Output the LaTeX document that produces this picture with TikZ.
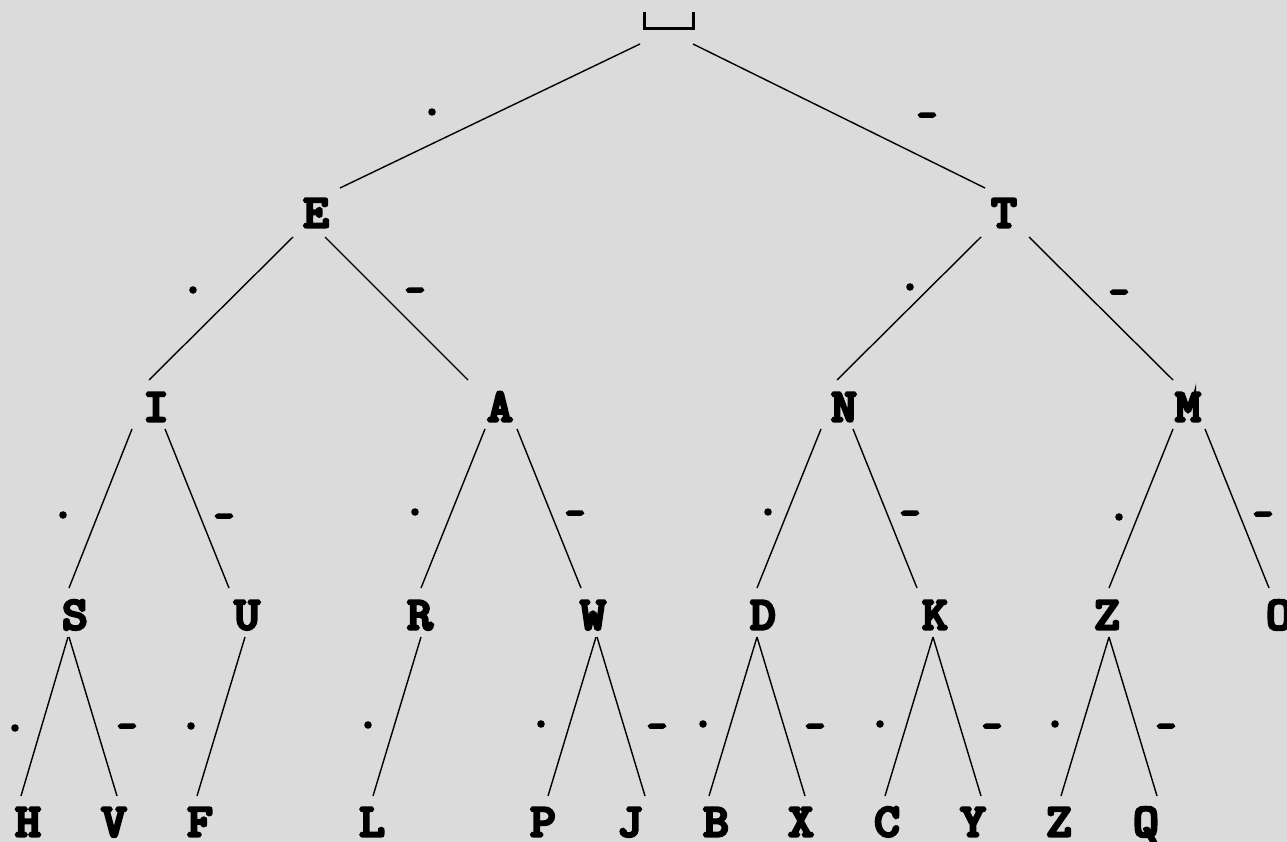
\documentclass[tikz,border=0pt]{standalone}
\usepackage{fontspec}
\newfontfamily\courb{Latin Modern Mono}[FakeBold=7]
\newfontfamily\courbb{Latin Modern Mono}[FakeBold=9]
\definecolor{bgray}{RGB}{219,219,219}
\tikzset{
  letter/.style={inner sep=0pt, anchor=base, font=\fontsize{46}{46}\selectfont\courb},
  sym/.style={inner sep=0pt, font=\fontsize{36}{36}\selectfont\courbb},
  edge/.style={line width=1.4pt}
}
\newcommand{\wletter}[1]{\raisebox{0pt}[\height][0pt]{\scalebox{1.06}[1]{#1}}}
\begin{document}
\begin{tikzpicture}[x=1pt,y=-1pt]
\fill[bgray] (0,0) rectangle (1287,842);
\useasboundingbox (0,0) rectangle (1287,842);
\clip (0,0) rectangle (1287,842);
% root
\node[inner sep=0pt, minimum width=48pt, minimum height=16pt] (root) at (669,20) {};
\draw[line width=3pt] (root.north west) -- (root.south west) -- (root.south east) -- (root.north east);
% letters (placed by baseline)
\node[letter] (E) at (316,227) {\wletter{E}};
\node[letter] (T) at (1004,227) {\wletter{T}};
\node[letter] (I) at (156,421) {\wletter{I}};
\node[letter] (A) at (500,421) {\wletter{A}};
\node[letter] (N) at (844,421) {\wletter{N}};
\node[letter] (M) at (1188,421) {\wletter{M}};
\node[letter] (S) at (75,629) {\wletter{S}};
\node[letter] (U) at (247,629) {\wletter{U}};
\node[letter] (R) at (420,629) {\wletter{R}};
\node[letter] (W) at (593,629) {\wletter{W}};
\node[letter] (D) at (763,629) {\wletter{D}};
\node[letter] (K) at (935,629) {\wletter{K}};
\node[letter] (Z) at (1107,629) {\wletter{Z}};
\node[letter] (O) at (1279,629) {\wletter{O}};
\node[letter] (H) at (28,836) {\wletter{H}};
\node[letter] (V) at (114,836) {\wletter{V}};
\node[letter] (F) at (200,836) {\wletter{F}};
\node[letter] (L) at (372,836) {\wletter{L}};
\node[letter] (P) at (543,836) {\wletter{P}};
\node[letter] (J) at (630,836) {\wletter{J}};
\node[letter] (B) at (716,836) {\wletter{B}};
\node[letter] (X) at (801,836) {\wletter{X}};
\node[letter] (C) at (887,836) {\wletter{C}};
\node[letter] (Y) at (973,836) {\wletter{Y}};
\node[letter] (Z2) at (1059,836) {\wletter{Z}};
\node[letter] (Q) at (1146,836) {\wletter{Q}};
% edges (offsets from each letter's baseline point)
\draw[edge] ([shift={(-29,24)}]root.center) -- ([shift={(24,-39)}]E.base);
\draw[edge] ([shift={(24,24)}]root.center) -- ([shift={(-19,-39)}]T.base);
\draw[edge] ([shift={(-23,10)}]E.base) -- ([shift={(-7,-41)}]I.base);
\draw[edge] ([shift={(9,10)}]E.base) -- ([shift={(-32,-41)}]A.base);
\draw[edge] ([shift={(-23,10)}]T.base) -- ([shift={(-7,-41)}]N.base);
\draw[edge] ([shift={(25,10)}]T.base) -- ([shift={(-15,-41)}]M.base);
\draw[edge] ([shift={(-24,8)}]I.base) -- ([shift={(-6,-41)}]S.base);
\draw[edge] ([shift={(9,8)}]I.base) -- ([shift={(-18,-41)}]U.base);
\draw[edge] ([shift={(-15,8)}]A.base) -- ([shift={(1,-41)}]R.base);
\draw[edge] ([shift={(17,8)}]A.base) -- ([shift={(-12,-41)}]W.base);
\draw[edge] ([shift={(-23,8)}]N.base) -- ([shift={(-6,-41)}]D.base);
\draw[edge] ([shift={(9,8)}]N.base) -- ([shift={(-18,-41)}]K.base);
\draw[edge] ([shift={(-15,8)}]M.base) -- ([shift={(2,-41)}]Z.base);
\draw[edge] ([shift={(17,8)}]M.base) -- ([shift={(-10,-41)}]O.base);
\draw[edge] ([shift={(-7,8)}]S.base) -- ([shift={(-7,-40)}]H.base);
\draw[edge] ([shift={(-6,8)}]S.base) -- ([shift={(3,-40)}]V.base);
\draw[edge] ([shift={(-2,8)}]U.base) -- ([shift={(-3,-40)}]F.base);
\draw[edge] ([shift={(1,8)}]R.base) -- ([shift={(1,-40)}]L.base);
\draw[edge] ([shift={(3,8)}]W.base) -- ([shift={(5,-40)}]P.base);
\draw[edge] ([shift={(4,8)}]W.base) -- ([shift={(15,-40)}]J.base);
\draw[edge] ([shift={(-6,8)}]D.base) -- ([shift={(-7,-40)}]B.base);
\draw[edge] ([shift={(-6,8)}]D.base) -- ([shift={(4,-40)}]X.base);
\draw[edge] ([shift={(-2,8)}]K.base) -- ([shift={(-2,-40)}]C.base);
\draw[edge] ([shift={(-2,8)}]K.base) -- ([shift={(8,-40)}]Y.base);
\draw[edge] ([shift={(2,8)}]Z.base) -- ([shift={(2,-40)}]Z2.base);
\draw[edge] ([shift={(2,8)}]Z.base) -- ([shift={(11,-40)}]Q.base);
% dot / dash labels
\node[sym] (l1) at (432,112) {.};
\node[sym] (l2) at (927,120) {-};
\node[sym] (l3) at (193,290) {.};
\node[sym] (l4) at (415,295) {-};
\node[sym] (l5) at (910,287) {.};
\node[sym] (l6) at (1119,297) {-};
\node[sym] (l7) at (63,515) {.};
\node[sym] (l8) at (224,521) {-};
\node[sym] (l9) at (415,512) {.};
\node[sym] (l10) at (575,518) {-};
\node[sym] (l11) at (768,512) {.};
\node[sym] (l12) at (910,518) {-};
\node[sym] (l13) at (1119,517) {.};
\node[sym] (l14) at (1263,519) {-};
\node[sym] (l15) at (15,728) {.};
\node[sym] (l16) at (127,731) {-};
\node[sym] (l17) at (191,726) {.};
\node[sym] (l18) at (368,725) {.};
\node[sym] (l19) at (541,724) {.};
\node[sym] (l20) at (657,731) {-};
\node[sym] (l21) at (703,724) {.};
\node[sym] (l22) at (815,731) {-};
\node[sym] (l23) at (880,724) {.};
\node[sym] (l24) at (992,731) {-};
\node[sym] (l25) at (1055,724) {.};
\node[sym] (l26) at (1166,731) {-};
\end{tikzpicture}
\end{document}
